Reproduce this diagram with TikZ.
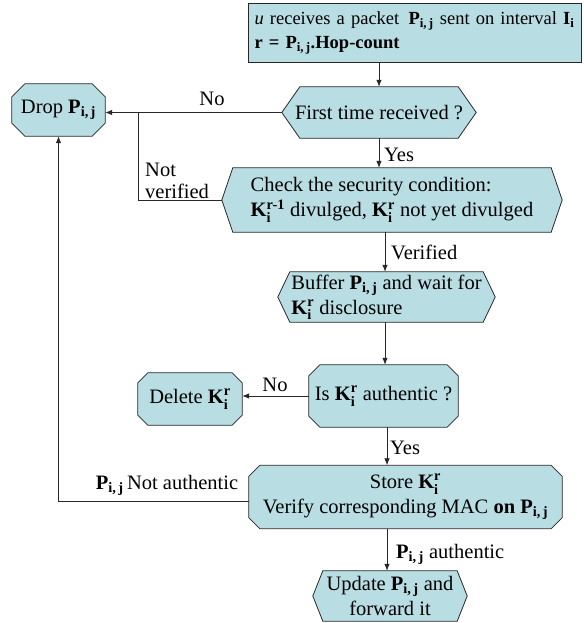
\documentclass[tikz,border=0pt]{standalone}
\usepackage{amsmath}
\usepackage{fontspec}
\setmainfont{Liberation Serif}
\usetikzlibrary{arrows.meta,backgrounds}
\definecolor{boxfill}{RGB}{184,221,226}
\definecolor{edgecol}{RGB}{40,40,40}
\newcommand\Pij{$\textbf{P}_{\textbf{i,\,j}}$}
\newcommand\Kir{$\textbf{K}_{\textbf{i}}^{\textbf{r}}$}
\newcommand\Kirm{$\textbf{K}_{\textbf{i}}^{\textbf{r-1}}$}
\newcommand\hexpath[2]{\filldraw[shapeline] (#1.west) -- ([xshift=#2]#1.north west) -- ([xshift=-#2]#1.north east) -- (#1.east) -- ([xshift=-#2]#1.south east) -- ([xshift=#2]#1.south west) -- cycle;}
\newcommand\octpath[2]{\filldraw[shapeline] ([yshift=-#2]#1.north west) -- ([xshift=#2]#1.north west) -- ([xshift=-#2]#1.north east) -- ([yshift=-#2]#1.north east) -- ([yshift=#2]#1.south east) -- ([xshift=-#2]#1.south east) -- ([xshift=#2]#1.south west) -- ([yshift=#2]#1.south west) -- cycle;}
\begin{document}
\begin{tikzpicture}[x=1pt,y=-1pt,
  font=\fontsize{20.5}{25}\selectfont,
  box/.style={inner sep=0pt, align=center},
  shapeline/.style={draw=edgecol, fill=boxfill, line width=0.8pt},
  conn/.style={draw=edgecol, line width=0.8pt},
  arr/.style={conn, -{Latex[length=7pt,width=5.5pt]}},
  lbl/.style={inner sep=0pt, align=left}]
\useasboundingbox (0,0) rectangle (583,623);

\node[shapeline, inner sep=0pt, minimum width=333pt, minimum height=59pt, text width=320pt, align=left,
  font=\fontsize{18.5}{24}\selectfont] (top) at (414.5,32.5)
  {\textit{u} receives a packet\, \Pij\ sent on interval $\textbf{I}_{\textbf{i}}$\\ \textbf{r =} \Pij\textbf{.Hop-count}};

\node[box, minimum width=194pt, minimum height=51pt] (first) at (379,112.5) {First time received ?};
\node[box, minimum width=93pt, minimum height=52pt] (drop) at (58.5,110) {Drop \Pij};
\node[box, minimum width=340pt, minimum height=64pt, align=left] (check) at (392,200)
  {Check the security condition:\\ \Kirm\ divulged, \Kir\ not yet divulged};
\node[box, minimum width=217pt, minimum height=50pt, align=left] (buffer) at (386.5,297)
  {Buffer \Pij\ and wait for\\ \Kir\ disclosure};
\node[box, minimum width=149pt, minimum height=62pt] (isk) at (383.5,396) {Is \Kir\ authentic ?};
\node[box, minimum width=104pt, minimum height=52pt] (delete) at (190,399) {Delete \Kir};
\node[box, minimum width=313pt, minimum height=63pt] (store) at (405.5,497)
  {Store \Kir\\ Verify corresponding MAC \textbf{on} \Pij};
\node[box, minimum width=154pt, minimum height=50pt] (update) at (390,596)
  {Update \Pij\ and\\ forward it};

\begin{scope}[on background layer]
  \hexpath{first}{18pt}
  \octpath{drop}{13pt}
  \hexpath{check}{11pt}
  \hexpath{buffer}{12pt}
  \octpath{isk}{11pt}
  \octpath{delete}{10pt}
  \octpath{store}{11pt}
  \hexpath{update}{10pt}
\end{scope}

\coordinate (j1) at (138,112.5);

\draw[arr] (first.north |- top.south) -- (first.north);
\draw[arr] (first.west) -- (first.west -| drop.east);
\draw[conn] (check.west) -| (j1);
\draw[arr] (first.south) -- (first.south |- check.north);
\draw[arr] (check.south -| 385,0) -- (385,0 |- buffer.north);
\draw[arr] (buffer.south -| 385,0) -- (385,0 |- isk.north);
\draw[arr] (isk.west) -- (isk.west -| delete.east);
\draw[arr] (387,0 |- isk.south) -- (387,0 |- store.north);
\draw[arr] (387,0 |- store.south) -- (387,0 |- update.north);
\draw[arr] ([yshift=-4pt]store.west) -| (drop.south);

\node[lbl] (lno1) at (212,99) {No};
\node[lbl, anchor=north west] (lnv) at (145,163) {Not\\[-3pt]verified};
\node[lbl, anchor=west] (lyes1) at (384,155) {Yes};
\node[lbl, anchor=west] (lver) at (391,252) {Verified};
\node[lbl] (lno2) at (275,385) {No};
\node[lbl, anchor=west] (lyes2) at (390,448) {Yes};
\node[lbl] (lna) at (167,485) {\Pij\,Not authentic};
\node[lbl, anchor=west] (lau) at (396,554) {\Pij\ authentic};
\end{tikzpicture}
\end{document}
